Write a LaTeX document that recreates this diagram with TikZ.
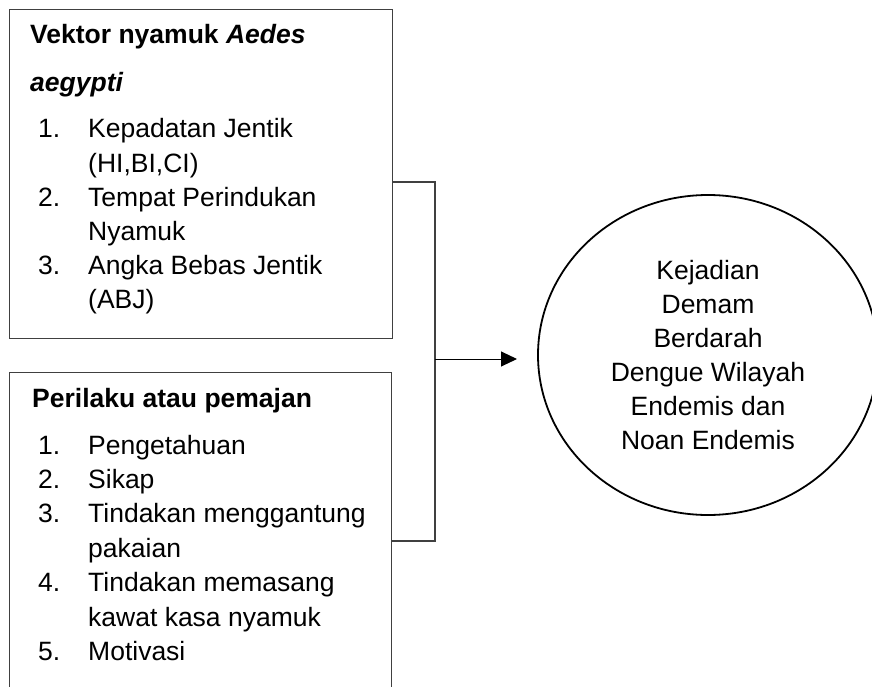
\documentclass[tikz,border=0pt]{standalone}
\usepackage{fontspec}
\setmainfont{Liberation Sans}
\usetikzlibrary{arrows.meta}
\begin{document}
\begin{tikzpicture}[x=1pt,y=-1pt,
  txt/.style={anchor=base west,inner sep=0pt,font=\fontsize{26.5}{34}\selectfont},
  boxframe/.style={draw=black!75,line width=1.3pt,inner sep=0pt,anchor=north west},
  bracketline/.style={draw=black!75,line width=1.3pt},
  arrowline/.style={draw=black,line width=1pt,-{Triangle[length=16pt,width=15pt]}}]
\useasboundingbox (0,0) rectangle (872,687);
\clip (0,0) rectangle (872,687);
% boxes
\node[boxframe,minimum width=383pt,minimum height=329pt] (box1) at (9,9) {};
\node[boxframe,minimum width=382pt,minimum height=330pt] (box2) at (9,372) {};
% box 1 text
\node[txt] (h1a) at (30,44) {\bfseries Vektor nyamuk \itshape Aedes};
\node[txt] (h1b) at (30,92) {\bfseries\itshape aegypti};
\node[txt] (n11) at (38,138) {1.};
\node[txt] (t11) at (88,138) {Kepadatan Jentik};
\node[txt] (t11b) at (88,172) {(HI,BI,CI)};
\node[txt] (n12) at (38,206) {2.};
\node[txt] (t12) at (88,206) {Tempat Perindukan};
\node[txt] (t12b) at (88,240) {Nyamuk};
\node[txt] (n13) at (38,274) {3.};
\node[txt] (t13) at (88,274) {Angka Bebas Jentik};
\node[txt] (t13b) at (88,308) {(ABJ)};
% box 2 text
\node[txt] (h2) at (32,407) {\bfseries Perilaku atau pemajan};
\node[txt] (n21) at (38,454) {1.};
\node[txt] (t21) at (88,454) {Pengetahuan};
\node[txt] (n22) at (38,488.4) {2.};
\node[txt] (t22) at (88,488.4) {Sikap};
\node[txt] (n23) at (38,522.8) {3.};
\node[txt] (t23) at (88,522.8) {Tindakan menggantung};
\node[txt] (t23b) at (88,557.2) {pakaian};
\node[txt] (n24) at (38,591.6) {4.};
\node[txt] (t24) at (88,591.6) {Tindakan memasang};
\node[txt] (t24b) at (88,626) {kawat kasa nyamuk};
\node[txt] (n25) at (38,660.4) {5.};
\node[txt] (t25) at (88,660.4) {Motivasi};
% outcome ellipse
\draw[black,line width=1.8pt] (708,355) ellipse [x radius=170pt,y radius=160pt];
\node[draw=none,inner sep=0pt,minimum width=340pt,minimum height=320pt] (circ) at (708,355) {};
\node[inner sep=0pt,align=center,anchor=base,font=\fontsize{26.5}{34}\selectfont] (ctext) at (708,449)
  {Kejadian\\Demam\\Berdarah\\Dengue Wilayah\\Endemis dan\\Noan Endemis};
% bracket
\coordinate (j1) at (435,182);
\coordinate (j2) at (435,541);
\coordinate (jm) at (435,359);
\coordinate (tip) at (517,359);
\draw[bracketline] (box1.east |- j1) -- (j1) -- (j2) -- (box2.east |- j2);
\draw[arrowline] (jm) -- (tip);
\end{tikzpicture}
\end{document}
